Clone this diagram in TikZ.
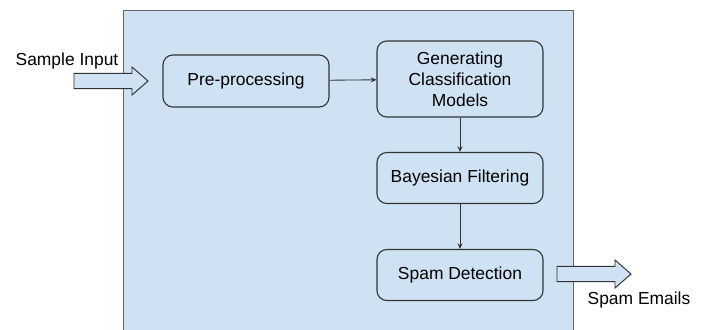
\documentclass[tikz,border=0pt]{standalone}
\usepackage{fontspec}
\setmainfont{Liberation Sans}
\usetikzlibrary{arrows.meta}
\definecolor{paleblue}{HTML}{CFE2F3}
\definecolor{edgegray}{HTML}{666666}
\definecolor{boxline}{HTML}{333333}
\tikzset{
  stagebox/.style={draw=boxline, line width=0.8pt, fill=paleblue, rounded corners=7pt,
    align=center, minimum width=4.15cm, inner sep=3pt,
    font=\fontsize{12.4}{15}\selectfont},
  flow/.style={-{Stealth[length=4pt,width=3.5pt]}, draw=boxline, line width=0.6pt},
  fatarrow/.pic={\draw[draw=boxline, line width=0.7pt, fill=paleblue]
    (0,0) -- (-0.4,0.35) -- (-0.4,0.19) -- (-1.85,0.19) -- (-1.85,-0.19)
    -- (-0.4,-0.19) -- (-0.4,-0.35) -- cycle;},
  tag/.style={font=\fontsize{12.4}{15}\selectfont}
}
\begin{document}
\begin{tikzpicture}
\useasboundingbox (0,0) rectangle (17.625,-8.25);
% system block
\fill[paleblue] (3.075,-0.25) rectangle (14.325,-8.5);
\draw[edgegray, line width=0.7pt] (3.075,-8.5) -- (3.075,-0.25) -- (14.325,-0.25) -- (14.325,-8.5);

\node[stagebox, minimum height=1.3cm] (pre) at (6.15,-2.025) {Pre-processing};
\node[stagebox, minimum height=1.9cm] (gen) at (11.5,-1.975) {Generating\\Classification\\Models};
\node[stagebox, minimum height=1.275cm] (bay) at (11.5,-4.45) {Bayesian Filtering};
\node[stagebox, minimum height=1.275cm] (det) at (11.5,-6.875) {Spam Detection};

\draw[flow] (pre) -- (gen);
\draw[flow] (gen) -- (bay);
\draw[flow] (bay) -- (det);

% input and output
\coordinate (intip) at (3.7,-2.025);
\coordinate (outtip) at (15.775,-6.85);
\pic at (intip) {fatarrow};
\pic at (outtip) {fatarrow};
\node[tag] (inlabel) at (1.675,-1.525) {Sample Input};
\node[tag] (outlabel) at (15.975,-7.5) {Spam Emails};
\end{tikzpicture}
\end{document}
